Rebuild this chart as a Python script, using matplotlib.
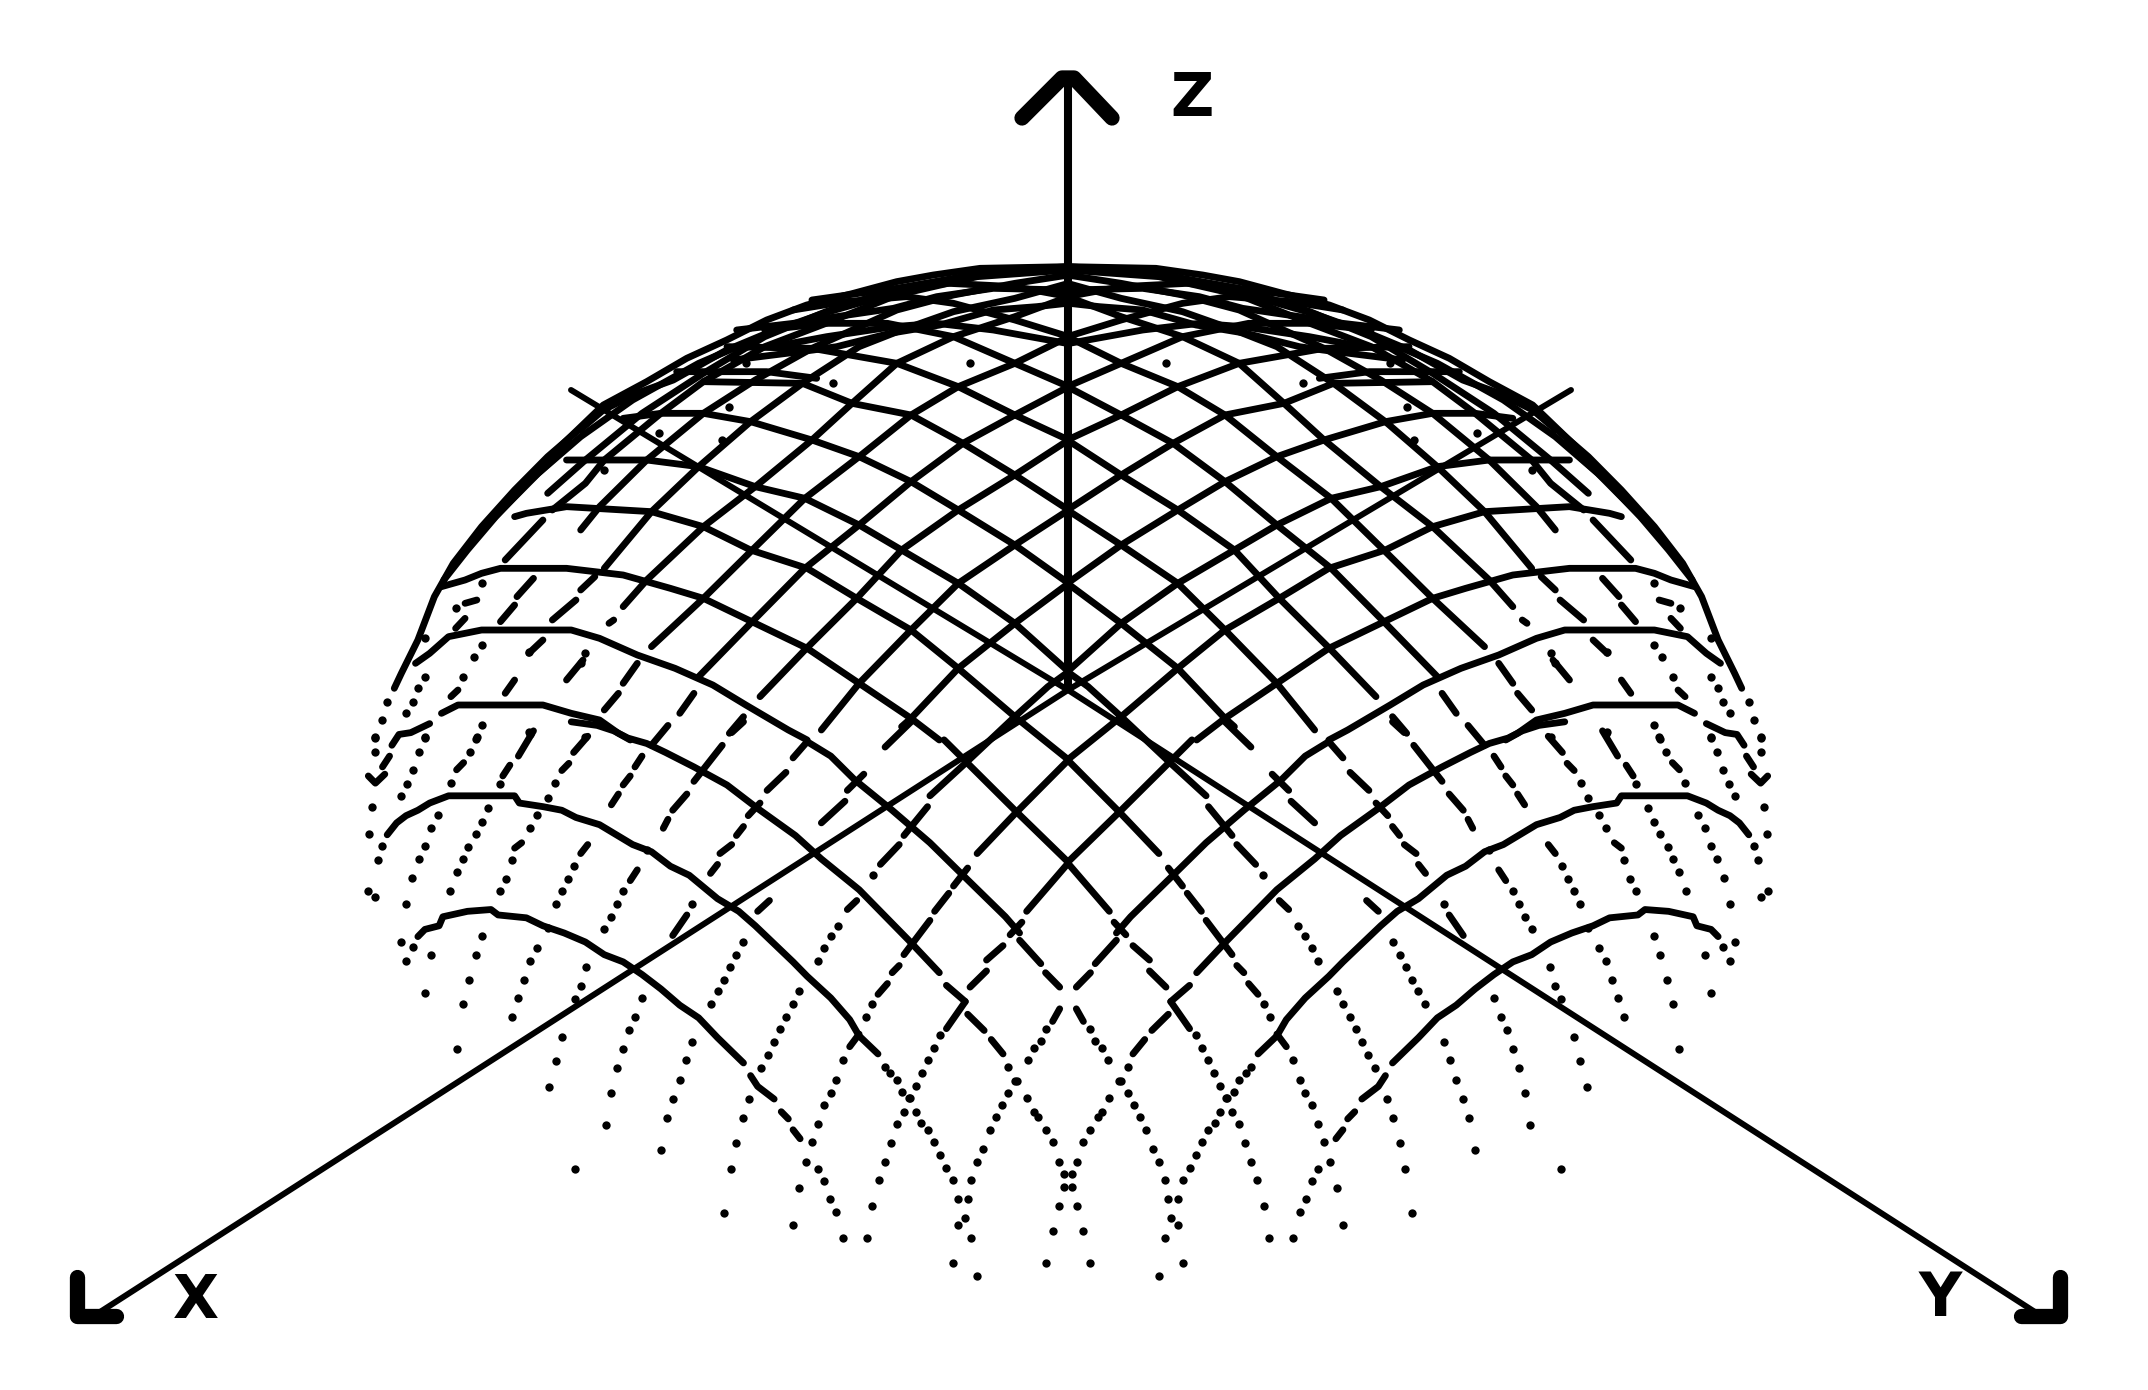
import numpy as np
import matplotlib.pyplot as plt

# "upper" values were read on a crop starting at y=240, "lower" on one starting at y=720,
# "top" on a close crop of the top of the dome
CENTER_X = 1068

axis_x = [(100, 1312), (1068, 690), (1571, 390)]
axis_y = [(2035, 1312), (1068, 690), (571, 390)]
axis_z = [(1068, 690), (1068, 80)]
head_z = [(1022, 118), (1062, 78), (1074, 78), (1112, 118)]
head_x = [(77, 1277), (77, 1316), (116, 1316)]
head_y = [(2060, 1277), (2060, 1316), (2021, 1316)]

# curves falling to the right
solid_upper = [
    [(215, 1420), (250, 1395), (430, 1395), (490, 1420), (550, 1440), (590, 1480), (615, 1500)],
    [(160, 1270), (190, 1240), (230, 1190), (300, 1170), (490, 1170), (550, 1195), (630, 1245), (710, 1285), (790, 1335), (860, 1395), (950, 1470), (990, 1500)],
    [(215, 1040), (265, 1020), (300, 1000), (340, 985), (480, 985), (600, 1005), (700, 1045), (770, 1075), (880, 1150), (990, 1225), (1100, 1330), (1210, 1435), (1270, 1500)],
    [(370, 830), (395, 820), (480, 800), (660, 815), (770, 860), (870, 930), (990, 985), (1095, 1075), (1210, 1170), (1310, 1285), (1430, 1430), (1544, 1560)],
    [(480, 660), (650, 660), (760, 680), (820, 710), (880, 740), (985, 775), (1100, 855), (1190, 930), (1310, 1030), (1430, 1150), (1544, 1295)],
    [(600, 535), (680, 520), (770, 520), (870, 545), (1000, 600), (1100, 650), (1210, 725), (1310, 810), (1430, 915), (1544, 1030)],
    [(770, 425), (980, 430), (1085, 490), (1210, 525), (1320, 610), (1430, 705), (1544, 810)],
    [(820, 320), (1000, 325), (1180, 370), (1310, 440), (1430, 525), (1544, 600)],
    [(900, 270), (1030, 250), (1160, 250), (1300, 290), (1430, 370), (1544, 440)],
    [(960, 210), (1070, 185), (1200, 170), (1300, 190), (1430, 240), (1544, 290)],
    [(1000, 180), (1150, 150), (1290, 130), (1430, 140), (1544, 170)],
    # curves rising to the right
    [(1325, 1570), (1430, 1430), (1500, 1340), (1544, 1295)],
    [(1190, 1460), (1210, 1435), (1310, 1285), (1430, 1150), (1544, 1030)],
    [(1020, 1470), (1060, 1400), (1100, 1330), (1210, 1170), (1310, 1030), (1430, 915), (1544, 810)],
    [(825, 1480), (855, 1430)],
    [(890, 1370), (985, 1230), (1095, 1075), (1190, 930), (1310, 810), (1430, 705), (1544, 600)],
    [(720, 1420), (750, 1360)],
    [(760, 1310), (870, 1150), (985, 985), (1100, 855), (1210, 725), (1320, 610), (1430, 525), (1544, 440)],
    [(560, 1410), (590, 1360)],
    [(600, 1330), (630, 1270)],
    [(660, 1220), (770, 1075), (870, 935), (985, 775), (1100, 650), (1210, 525), (1310, 440), (1430, 370), (1544, 290)],
    [(480, 1320), (515, 1260)],
    [(570, 1150), (580, 1140)],
    [(600, 1100), (650, 1020), (770, 860), (880, 740), (1000, 600), (1085, 490), (1180, 370), (1300, 290), (1430, 230), (1544, 170)],
    [(350, 1360), (370, 1320)],
    [(400, 1240), (430, 1200)],
    [(450, 1140), (500, 1080)],
    [(510, 1050), (540, 1010)],
    [(560, 985), (660, 815), (760, 680), (870, 545), (980, 430), (1100, 320), (1190, 270), (1300, 215), (1430, 175), (1544, 130)],
    [(235, 1370), (250, 1350)],
    [(340, 1145), (370, 1095)],
    [(375, 1070), (410, 1015)],
    [(510, 870), (550, 800), (650, 660), (770, 520), (880, 420), (1000, 325), (1180, 210), (1300, 165), (1430, 130), (1544, 105)],
    [(245, 1165), (265, 1135)],
    [(350, 960), (430, 840)],
    [(450, 810), (520, 730), (560, 660), (680, 520), (770, 425), (900, 320), (1030, 250), (1180, 165), (1350, 110), (1544, 90)],
    [(265, 1090), (290, 1080)],
    [(440, 760), (520, 660), (640, 520), (770, 400), (900, 290), (1030, 215), (1180, 145), (1380, 95), (1544, 80)],
    # outline of the dome
    [(115, 1345), (130, 1300), (165, 1200), (200, 1070), (240, 970), (300, 860), (370, 750), (440, 650), (530, 540)],
    [(290, 885), (350, 800), (420, 700), (510, 590), (620, 480), (760, 370), (900, 285)],
    [(220, 1020), (270, 930), (330, 830), (400, 725), (490, 610)],
]

solid_top = [
    [(0, 590), (130, 465), (260, 395), (380, 325), (500, 270), (620, 210), (740, 165), (880, 130), (1010, 95), (1120, 75), (1260, 55), (1520, 50)],
    [(60, 540), (130, 480), (230, 430), (340, 390), (500, 300), (620, 250), (790, 190), (1000, 130), (1140, 100), (1300, 65), (1520, 60)],
    [(530, 240), (700, 220), (830, 200), (1000, 175), (1130, 140), (1300, 115), (1520, 120)],
    [(640, 290), (800, 260), (1000, 230), (1130, 220), (1300, 240), (1520, 280)],
    [(520, 330), (760, 300), (830, 290), (990, 250), (1140, 225), (1300, 180), (1430, 170), (1520, 160)],
    [(350, 365), (620, 365), (770, 385)],
]

solid_lower = [
    [(165, 600), (180, 580), (210, 570), (218, 545), (270, 530), (320, 525), (335, 540), (395, 548), (430, 570), (475, 590), (520, 615), (560, 650), (600, 670), (640, 705), (680, 745), (720, 790), (760, 825), (800, 880), (855, 950)],
    [(870, 985), (885, 1015), (920, 1050)],
    [(935, 1085), (950, 1105)],
    [(960, 1135), (975, 1160)],
    [(100, 318), (120, 285), (140, 265), (165, 250), (190, 230), (230, 210), (370, 210), (380, 230), (430, 240), (470, 250), (500, 270), (550, 290), (620, 345), (660, 365), (700, 405), (740, 430), (800, 495), (845, 530), (880, 570), (960, 670), (990, 710), (1040, 770), (1080, 830), (1100, 875), (1140, 925)],
    [(490, 5), (545, 15), (580, 30), (610, 50), (650, 65), (690, 90), (750, 130), (820, 180), (885, 245), (965, 320), (1020, 385), (1100, 470), (1205, 610), (1270, 700)],
    [(1285, 735), (1325, 780)],
    [(1330, 815), (1365, 860)],
    [(1380, 885), (1405, 925)],
    [(990, 60), (1040, 100), (1090, 165), (1170, 250), (1250, 340), (1320, 430), (1410, 545), (1440, 590)],
    [(1440, 610), (1485, 675)],
    [(1495, 700), (1525, 740)],
    [(1280, 55), (1330, 120), (1430, 250), (1544, 395)],
    [(60, 155), (75, 175), (95, 150)],
    [(90, 130), (105, 100)],
    [(110, 70), (125, 40), (150, 35), (190, 10)],
    [(1285, 855), (1325, 780)],
    [(1335, 740), (1370, 695)],
    [(1370, 665), (1405, 625)],
    [(1420, 595), (1445, 560)],
    [(1455, 530), (1544, 395)],
    [(1080, 905), (1100, 870)],
    [(1140, 760), (1160, 730)],
    [(1170, 700), (1185, 680)],
    [(1195, 650), (1250, 555)],
    [(1260, 530), (1290, 480)],
    [(1300, 460), (1330, 410)],
    [(1350, 370), (1430, 260), (1544, 110)],
    [(1075, 525), (1095, 500)],
    [(1145, 400), (1185, 345)],
    [(1195, 320), (1245, 240)],
    [(1250, 210), (1325, 120)],
    [(885, 530), (910, 500)],
    [(1020, 285), (1070, 225)],
    [(1075, 195), (1110, 150)],
    [(1155, 75), (1210, 5)],
    [(705, 597), (735, 540)],
    [(785, 425), (800, 400)],
    [(805, 370), (830, 345)],
    [(840, 320), (855, 295)],
    [(865, 265), (890, 230)],
    [(905, 195), (945, 145)],
    [(960, 105), (990, 60)],
    [(615, 445), (630, 415)],
    [(685, 300), (695, 275)],
    [(705, 250), (735, 205)],
    [(750, 170), (810, 70)],
    [(830, 35), (855, 5)],
    [(510, 370), (525, 345)],
    [(575, 235), (590, 205)],
    [(600, 180), (615, 155)],
    [(625, 130), (640, 100)],
    [(660, 70), (695, 15)],
    [(470, 140), (485, 120)],
    [(495, 90), (525, 45)],
    [(345, 155), (360, 125)],
    [(378, 100), (410, 30)],
    [(247, 138), (262, 118)],
    [(370, 355), (385, 340)],
    [(1510, 835), (1525, 800)],
]

dots_upper = [
    (180, 1310), (260, 1310), (165, 1345), (155, 1385), (100, 1385), (140, 1420), (90, 1440),
    (245, 1105), (180, 1195), (300, 1215), (285, 1250), (400, 1235), (520, 1240), (510, 1270),
    (75, 1490), (180, 1490), (290, 1490), (400, 1475), (520, 1490), (300, 1030), (825, 500),
    (675, 580), (560, 690), (810, 600), (860, 370), (1045, 430), (1335, 370),
]

dots_lower = [
    # ends of the curves falling to the right
    (1012, 1243), (1025, 1277), (1038, 1328), (1052, 1362), (1065, 1435),
    (1155, 960), (1165, 978), (1180, 997), (1190, 1030), (1205, 1047), (1220, 1085), (1232, 1115),
    (1245, 1135), (1258, 1170), (1272, 1205), (1285, 1240), (1298, 1275), (1310, 1327), (1330, 1327),
    (1325, 1380), (1310, 1400), (1337, 1435), (1350, 1540),
    (1415, 960), (1435, 1000), (1455, 1047), (1470, 1085), (1480, 1100), (1497, 1135), (1510, 1170),
    (1523, 1223), (1535, 1258), (1535, 1293), (1523, 1345), (1510, 1415), (1497, 1503),
    # ends of the curves rising to the right
    (1298, 1503), (1338, 1275), (1350, 1223), (1363, 1188), (1377, 1136), (1390, 1100), (1403, 1067),
    (1415, 1033), (1430, 1000), (1457, 943), (1470, 908), (1485, 890), (1497, 855),
    (1116, 1435), (1128, 1347), (1142, 1275), (1155, 1223), (1168, 1172), (1180, 1120), (1195, 1085),
    (1207, 1048), (1220, 1015), (1233, 978), (1245, 943), (1258, 908), (1272, 873),
    (959, 1400), (973, 1295), (987, 1225), (1000, 1170), (1013, 1120), (1025, 1067), (1040, 1033),
    (1050, 997), (1065, 943), (1115, 822), (1128, 787),
    (813, 1365), (828, 1245), (840, 1172), (853, 1103), (867, 1050), (893, 963), (906, 927),
    (920, 892), (933, 857), (946, 822), (960, 787), (973, 752), (1013, 667), (1025, 632),
    (1040, 597), (1055, 570), (1130, 430),
    (680, 1190), (692, 1103), (706, 1050), (720, 997), (733, 943), (746, 892), (787, 787),
    (800, 752), (813, 720), (827, 685), (840, 650), (853, 615),
    (497, 1245), (563, 1122), (575, 1033), (588, 963), (599, 910), (612, 858), (626, 822), (640, 770),
    (745, 510),
    (443, 1017), (457, 945), (470, 877), (497, 772), (510, 737), (522, 685), (560, 580), (575, 545),
    (587, 510), (600, 475), (650, 360),
    (365, 822), (378, 770), (390, 720), (403, 668), (417, 632), (440, 575), (457, 510), (470, 475),
    (483, 440), (495, 405),
    (247, 910), (260, 788), (274, 720), (288, 652), (300, 597), (340, 475), (352, 440), (365, 388),
    (403, 298), (417, 262), (440, 215), (455, 175),
    (234, 475), (247, 422), (260, 385), (272, 352), (288, 317), (300, 282), (313, 245), (340, 178),
    (140, 510), (153, 438), (168, 385), (181, 350), (193, 298), (207, 262), (235, 175), (275, 88),
    (288, 52), (300, 15),
    (130, 210), (142, 178), (155, 138), (168, 88), (180, 50),
    # close to the rim
    (180, 755), (193, 650), (130, 615), (155, 630), (140, 668), (62, 317), (88, 350), (80, 387),
    (60, 475), (75, 490), (68, 240), (75, 50), (75, 90), (403, 40),
]

LABELS = [("Z", 1192, 99), ("X", 196, 1301), ("Y", 1940, 1299)]


def from_upper(pts):
    pts = np.array(pts, dtype=float).reshape(-1, 2)
    return 340 + pts[:, 0] / 2.119, 240 + pts[:, 1] / 3.0


def from_lower(pts):
    pts = np.array(pts, dtype=float).reshape(-1, 2)
    return 340 + pts[:, 0] / 2.119, 720 + pts[:, 1] / 2.77


def from_top(pts):
    pts = np.array(pts, dtype=float).reshape(-1, 2)
    return 560 + pts[:, 0] / 3.0, 250 + pts[:, 1] / 3.0


def both_sides(ax, x, y, **kw):
    ax.plot(x, y, **kw)
    ax.plot(2 * CENTER_X - x, y, **kw)


fig = plt.figure(figsize=(21.48, 13.9), dpi=100)
ax = fig.add_axes([0, 0, 1, 1])
ax.set_xlim(0, 2148)
ax.set_ylim(1390, 0)
ax.axis("off")

line_style = dict(color="black", lw=4.9, solid_capstyle="round", solid_joinstyle="round")
dot_style = dict(color="black", ls="none", marker="o", ms=6.0, mew=0)

for seg in solid_upper:
    both_sides(ax, *from_upper(seg), **line_style)
for seg in solid_top:
    both_sides(ax, *from_top(seg), **line_style)
for seg in solid_lower:
    both_sides(ax, *from_lower(seg), **line_style)
both_sides(ax, *from_upper(dots_upper), **dot_style)
both_sides(ax, *from_lower(dots_lower), **dot_style)

for line in (axis_x, axis_y):
    pts = np.array(line)
    ax.plot(pts[:, 0], pts[:, 1], color="black", lw=4.3, solid_capstyle="round")
pts = np.array(axis_z)
ax.plot(pts[:, 0], pts[:, 1], color="black", lw=5.8, solid_capstyle="butt")
for head in (head_z, head_x, head_y):
    pts = np.array(head)
    ax.plot(pts[:, 0], pts[:, 1], color="black", lw=11,
            solid_capstyle="round", solid_joinstyle="round")

for txt, x, y in LABELS:
    ax.text(x, y, txt, fontsize=43, fontweight="bold", family="DejaVu Sans",
            ha="center", va="center", color="black")

fig.savefig("out.png", dpi=100, facecolor="white")
